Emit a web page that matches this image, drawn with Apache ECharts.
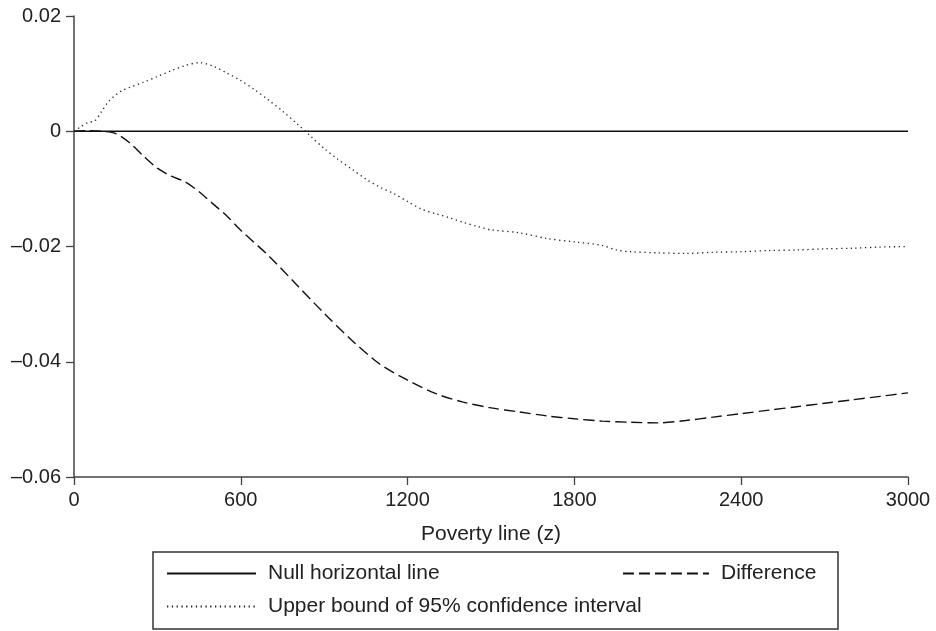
<!DOCTYPE html>
<html>
<head>
<meta charset="utf-8">
<script src="https://cdn.jsdelivr.net/npm/echarts@6/dist/echarts.min.js"></script>
<style>
html, body { margin: 0; padding: 0; background: #fff; }
#chart { width: 936px; height: 631px; }
</style>
</head>
<body>
<div id="chart"></div>
<script>
// poverty line values (z) and the curves
var nullX = [0, 3000];
var nullY = [0, 0];

var diffX = [0, 50, 100, 150, 200, 250, 300, 350, 400, 450, 500, 550, 600, 700, 800, 900,
    1000, 1100, 1200, 1300, 1400, 1500, 1600, 1700, 1800, 1900, 2000, 2100, 2200, 2300,
    2400, 2500, 2600, 2700, 2800, 2900, 3000];
var diffY = [0, 0.0001, 0, -0.0004, -0.0020, -0.0043, -0.0064, -0.0078, -0.0088, -0.0105,
    -0.0126, -0.0147, -0.0172, -0.0216, -0.0266, -0.0316, -0.0363, -0.0404, -0.0432,
    -0.0455, -0.0470, -0.0480, -0.0487, -0.0494, -0.0499, -0.0503, -0.0505, -0.0506,
    -0.0502, -0.0496, -0.0490, -0.0484, -0.0478, -0.0472, -0.0466, -0.0460, -0.0454];

var upX = [0, 25, 50, 75, 100, 125, 150, 175, 200, 250, 300, 350, 400, 450, 500, 550, 600,
    650, 700, 750, 800, 850, 900, 950, 1000, 1050, 1100, 1150, 1200, 1250, 1300, 1350,
    1400, 1450, 1500, 1600, 1700, 1800, 1900, 1950, 2000, 2100, 2200, 2300, 2400, 2500,
    2600, 2700, 2800, 2900, 3000];
var upY = [0, 0.0008, 0.0015, 0.0018, 0.0035, 0.0052, 0.0063, 0.0071, 0.0076, 0.0085,
    0.0095, 0.0105, 0.0114, 0.0119, 0.0113, 0.0101, 0.0088, 0.0072, 0.0054, 0.0035,
    0.0014, -0.0008, -0.0030, -0.0049, -0.0066, -0.0083, -0.0097, -0.0108, -0.0122,
    -0.0135, -0.0143, -0.0150, -0.0158, -0.0165, -0.0171, -0.0176, -0.0186, -0.0192,
    -0.0198, -0.0206, -0.0209, -0.0211, -0.0212, -0.0210, -0.0209, -0.0207, -0.0206,
    -0.0204, -0.0203, -0.0201, -0.0200];

var names = ['Null horizontal line', 'Difference', 'Upper bound of 95% confidence interval'];

function pairs(xs, ys) {
    var out = [];
    for (var i = 0; i < xs.length; i++) out.push([xs[i], ys[i]]);
    return out;
}

var dom = document.getElementById('chart');
var myChart = echarts.init(dom, null, { renderer: 'canvas' });

var font = 'Liberation Sans, Arial, Helvetica, sans-serif';
var ink = '#111';
var axisColor = '#444';

var legendText = { color: '#222', fontSize: 21, fontFamily: font, padding: [0, 0, 0, 7] };
// hide the marker that echarts puts in the middle of a line legend icon
var noMarker = { color: 'rgba(0,0,0,0)', borderWidth: 0, opacity: 0 };

var option = {
    animation: false,
    backgroundColor: '#fff',
    grid: { left: 74, right: 28, top: 16, bottom: 154, containLabel: false },
    xAxis: {
        type: 'value',
        min: 0,
        max: 3000,
        interval: 600,
        name: 'Poverty line (z)',
        nameLocation: 'middle',
        nameGap: 47,
        nameTextStyle: { color: '#222', fontSize: 21, fontFamily: font },
        axisLine: { onZero: false, lineStyle: { color: axisColor, width: 1.5 } },
        axisTick: { length: 8, lineStyle: { color: axisColor, width: 1.3 } },
        axisLabel: {
            margin: 13, color: '#222', fontSize: 20, fontFamily: font,
            formatter: function (v) { return String(v); }
        },
        splitLine: { show: false }
    },
    yAxis: {
        type: 'value',
        min: -0.06,
        max: 0.02,
        interval: 0.02,
        axisLine: { show: true, lineStyle: { color: axisColor, width: 1.5 } },
        axisTick: { show: true, length: 8, lineStyle: { color: axisColor, width: 1.3 } },
        axisLabel: {
            margin: 13,
            color: '#222',
            fontSize: 20,
            fontFamily: font,
            formatter: function (v) {
                if (Math.abs(v) < 1e-9) return '0';
                return (v < 0 ? '\u2013' : '') + Math.abs(v).toFixed(2);
            }
        },
        splitLine: { show: false }
    },
    legend: [
        {
            data: [names[0]], left: 166, top: 563, padding: 0,
            itemWidth: 89, itemHeight: 14, textStyle: legendText, itemStyle: noMarker
        },
        {
            data: [names[1]], left: 622, top: 563, padding: 0,
            itemWidth: 86, itemHeight: 14, textStyle: legendText, itemStyle: noMarker
        },
        {
            data: [names[2]], left: 166, top: 596, padding: 0,
            itemWidth: 89, itemHeight: 14, textStyle: legendText, itemStyle: noMarker
        }
    ],
    graphic: [
        {
            type: 'rect',
            shape: { x: 153, y: 552, width: 685, height: 77 },
            style: { fill: 'none', stroke: '#333', lineWidth: 1.5 },
            silent: true
        }
    ],
    series: [
        {
            name: names[0],
            type: 'line',
            symbol: 'none',
            data: pairs(nullX, nullY),
            lineStyle: { color: ink, width: 1.5, type: 'solid' },
            itemStyle: { color: ink },
            z: 3
        },
        {
            name: names[1],
            type: 'line',
            symbol: 'none',
            smooth: 0.3,
            data: pairs(diffX, diffY),
            lineStyle: { color: ink, width: 1.4, type: [11, 5] },
            itemStyle: { color: ink }
        },
        {
            name: names[2],
            type: 'line',
            symbol: 'none',
            smooth: 0.3,
            data: pairs(upX, upY),
            lineStyle: { color: '#222', width: 1.3, type: [1.3, 3.5] },
            itemStyle: { color: '#222' }
        }
    ]
};

myChart.setOption(option);
window.addEventListener('resize', myChart.resize);
</script>
</body>
</html>
